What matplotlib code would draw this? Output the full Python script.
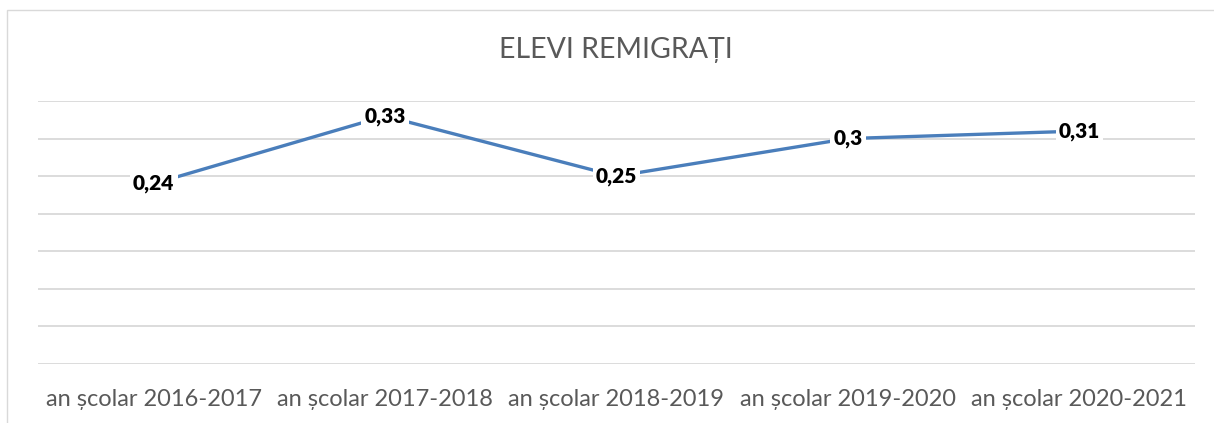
import matplotlib
matplotlib.use("Agg")
import matplotlib.pyplot as plt
from matplotlib.patches import Rectangle

# data
categories = ["an școlar 2016-2017", "an școlar 2017-2018", "an școlar 2018-2019",
              "an școlar 2019-2020", "an școlar 2020-2021"]
values = [0.24, 0.33, 0.25, 0.30, 0.31]
value_labels = ["0,24", "0,33", "0,25", "0,3", "0,31"]
title = "ELEVI REMIGRAȚI"

plt.rcParams['font.family'] = ['Lato', 'DejaVu Sans']

W, H = 1214, 423
fig = plt.figure(figsize=(W / 100, H / 100), dpi=100)

# chart border (cropped at right/bottom in the reference)
fig.patches.append(Rectangle((7 / W, -0.1), 1.2, 1 - 10 / H + 0.1, transform=fig.transFigure,
                             fill=False, edgecolor='#D9D9D9', linewidth=1.0))

ax = fig.add_axes([38 / W, 59 / H, (1195 - 38) / W, (364 - 101) / H])
x = list(range(len(categories)))
ax.plot(x, values, color='#4A7EBB', linewidth=2.4, solid_capstyle='round', zorder=3)

for xi, v, lab in zip(x, values, value_labels):
    ax.text(xi, v, lab, ha='center', va='center', fontsize=15, fontweight='heavy',
            color='black', zorder=4,
            bbox=dict(boxstyle='square,pad=0.15', facecolor='white', edgecolor='none'))

ax.set_xlim(-0.5, len(categories) - 0.5)
ax.set_ylim(0, 0.35)
ax.set_yticks([i * 0.05 for i in range(8)])
ax.yaxis.grid(True, color='#D9D9D9', linewidth=1.3)
ax.set_axisbelow(True)
ax.tick_params(axis='y', left=False, labelleft=False)
ax.set_xticks(x)
ax.set_xticklabels(categories, fontsize=17, color='#595959')
ax.tick_params(axis='x', length=0, pad=18)
for s in ax.spines.values():
    s.set_visible(False)

fig.text(616 / W, 1 - 50 / H, title, ha='center', va='center', fontsize=20.5, color='#595959')

fig.savefig("out.png", dpi=100)
